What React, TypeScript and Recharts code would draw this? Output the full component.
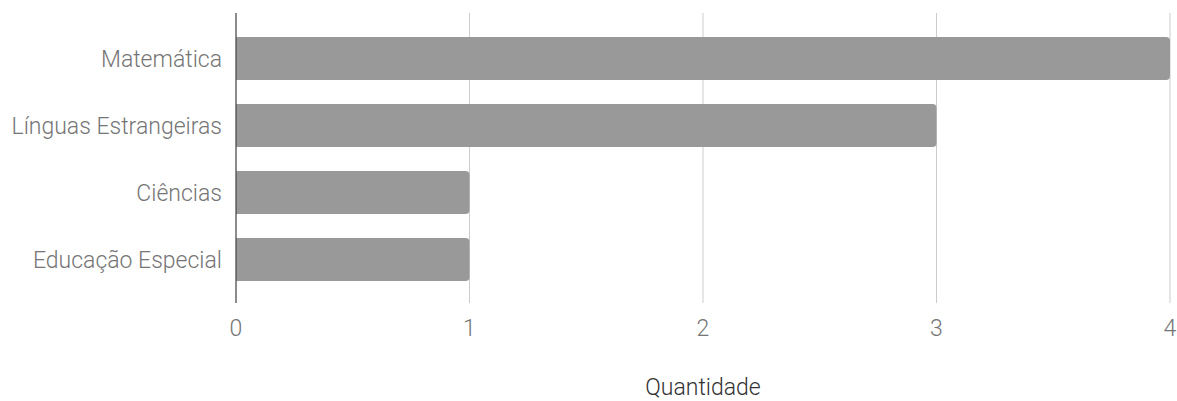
import { BarChart, Bar, XAxis, YAxis, CartesianGrid } from "recharts";

const categories = ["Matemática", "Línguas Estrangeiras", "Ciências", "Educação Especial"];
const quantidade = [4, 3, 1, 1];
const xTicks = [0, 1, 2, 3, 4];

const data = categories.map((name, i) => ({ name, value: quantidade[i] }));

export default function App() {
  return (
    <div style={{ position: "absolute", left: 0, top: 0, fontFamily: "Roboto" }}>
      <BarChart
        width={1177}
        height={401}
        data={data}
        layout="vertical"
        margin={{ top: 13, right: 7, bottom: 0, left: 0 }}
        barCategoryGap="18%"
      >
        <CartesianGrid horizontal={false} stroke="#cccccc" />
        <XAxis
          type="number"
          domain={[0, 4]}
          ticks={xTicks}
          axisLine={false}
          tickLine={false}
          tickSize={0}
          tickMargin={17}
          height={98}
          tick={{ fill: "#757575", fontSize: 23, fontWeight: 300 }}
          label={{ value: "Quantidade", position: "insideBottom", offset: 6, fill: "#333333", fontSize: 23, fontWeight: 300 }}
        />
        <YAxis
          type="category"
          dataKey="name"
          width={236}
          padding={{ top: 12, bottom: 10 }}
          axisLine={{ stroke: "#333333" }}
          tickLine={false}
          tickSize={0}
          tickMargin={14}
          tick={{ fill: "#757575", fontSize: 23, fontWeight: 300 }}
        />
        <Bar dataKey="value" fill="#999999" radius={[0, 4, 4, 0]} isAnimationActive={false} />
      </BarChart>
    </div>
  );
}
